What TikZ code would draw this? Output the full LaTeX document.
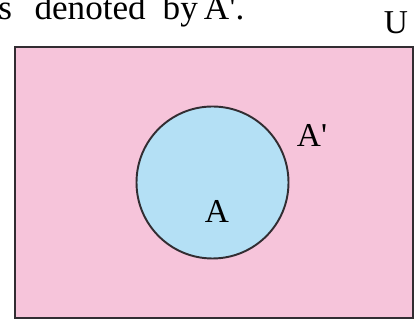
\documentclass[tikz,border=0pt]{standalone}
\usepackage{fontspec}
\setmainfont{Liberation Serif}

\definecolor{univpink}{RGB}{246,196,218}
\definecolor{setblue}{RGB}{180,224,245}
\definecolor{edgegray}{RGB}{50,45,50}

\begin{document}
\begin{tikzpicture}[x=0.02cm,y=0.02cm,
    lbl/.style={font=\fontsize{19}{22}\selectfont,inner sep=0pt}]
  \useasboundingbox (0,0) rectangle (419,320);
  \clip (0,0) rectangle (419,320);
  % universal set and set A
  \draw[edgegray,line width=1.4pt,fill=univpink] (15,2) rectangle (413,273);
  \draw[edgegray,line width=1.1pt,fill=setblue] (212.5,137.5) circle (76);
  \node[lbl] (a) at (217,109) {A};
  \node[lbl] (acomp) at (312,185) {A\textquotesingle};
  \node[lbl] (u) at (396,297) {U};
  \node[lbl,font=\fontsize{20}{22}\selectfont,anchor=base west] (txt) at (-2,300)
    {s\hspace{0.45cm}denoted\hspace{0.34cm}by\hspace{0.12cm}A\textquotesingle.};
\end{tikzpicture}
\end{document}
